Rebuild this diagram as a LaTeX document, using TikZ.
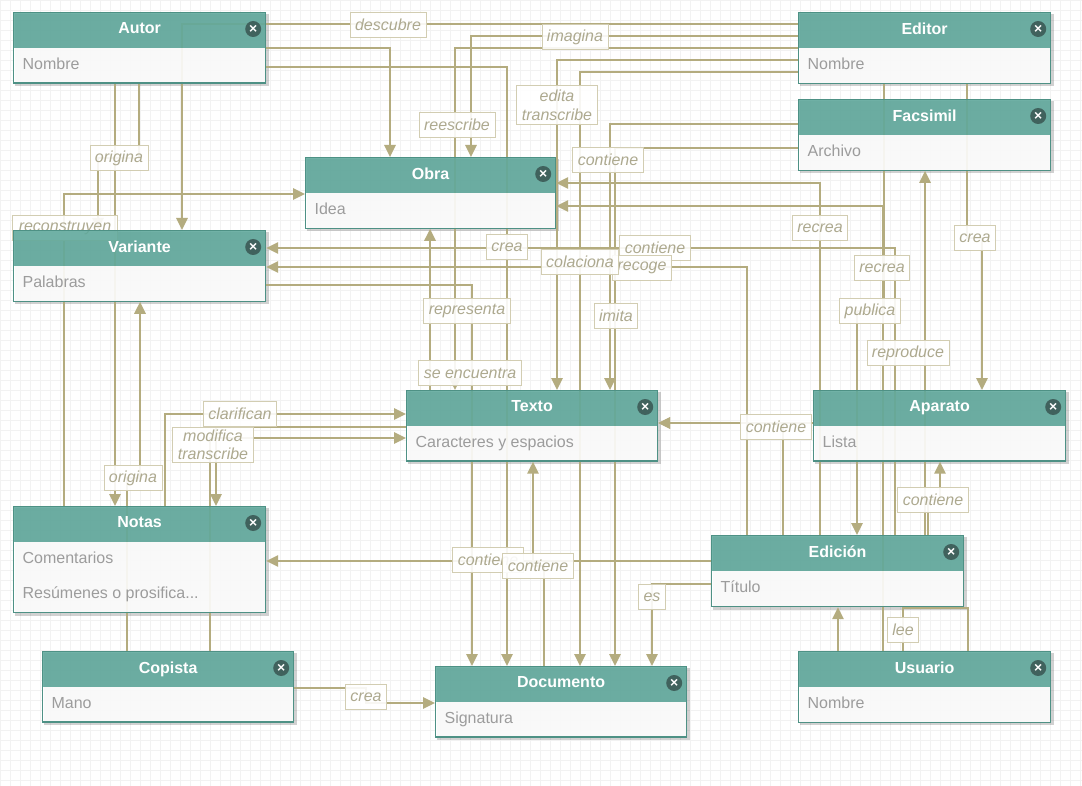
\documentclass[tikz,border=0pt]{standalone}
\usepackage{fontspec}
\setmainfont{Liberation Sans}
\usetikzlibrary{arrows.meta,shapes.multipart,calc}
\definecolor{cabecera}{HTML}{5EA89B}
\definecolor{borde}{HTML}{4E9185}
\definecolor{linea}{HTML}{B4AC7F}
\definecolor{etiq}{HTML}{ADA98F}
\definecolor{cuerpo}{HTML}{9C9C9C}
\definecolor{cerrar}{HTML}{40625D}
\newcommand{\fila}{\rule[-4pt]{0pt}{15.5pt}}
\pgfdeclarelayer{fondo}
\pgfsetlayers{fondo,main}
\tikzset{
  entidad/.style={rectangle split, rectangle split parts=2, rectangle split draw splits=false,
    rectangle split part fill={cabecera,white}, rectangle split part align={center,left},
    draw=borde, line width=1.2pt, minimum width=252pt, inner ysep=9.25pt, inner xsep=9pt,
    anchor=north west, font=\fontsize{16}{18}\selectfont, text=cuerpo,
    fill opacity=0.88, text opacity=1},
  sombra/.style={fill=black, opacity=0.18},
  boton/.style={circle, fill=cerrar, text=white, inner sep=0pt, minimum size=16pt,
    font=\fontsize{14}{14}\selectfont\bfseries},
  rel/.style={draw=linea, line width=2.6pt},
  flecha/.style={rel, -{Triangle[length=12pt,width=11pt]}},
  etiqueta/.style={draw=linea!60, line width=0.8pt, fill=white, fill opacity=0.9, text opacity=1,
    text=etiq, font=\fontsize{16}{18}\selectfont\itshape, inner xsep=5pt, inner ysep=3pt,
    minimum height=25pt}
}
\begin{document}
\begin{tikzpicture}[x=1pt,y=-1pt]
\useasboundingbox (0,0) rectangle (1082,786);

\node[entidad] (autor) at (13,12) {\color{white}\bfseries\fila Autor\nodepart{two}\fila Nombre};
\node[entidad] (editor) at (798,12) {\color{white}\bfseries\fila Editor\nodepart{two}\fila Nombre};
\node[entidad] (facsimil) at (798,99) {\color{white}\bfseries\fila Facsimil\nodepart{two}\fila Archivo};
\node[entidad, minimum width=250pt] (obra) at (305,157) {\color{white}\bfseries\fila Obra\nodepart{two}\fila Idea};
\node[entidad] (variante) at (13,230) {\color{white}\bfseries\fila Variante\nodepart{two}\fila Palabras};
\node[entidad, minimum width=251pt] (texto) at (406,390) {\color{white}\bfseries\fila Texto\nodepart{two}\fila Caracteres y espacios};
\node[entidad] (aparato) at (813,390) {\color{white}\bfseries\fila Aparato\nodepart{two}\fila Lista};
\node[entidad, rectangle split parts=3, rectangle split part fill={cabecera,white,white},
  rectangle split part align={center,left,left}] (notas) at (13,506)
  {\color{white}\bfseries\fila Notas\nodepart{two}\fila Comentarios\nodepart{three}\fila Resúmenes o prosifica...};
\node[entidad] (edicion) at (711,535) {\color{white}\bfseries\fila Edición\nodepart{two}\fila Título};
\node[entidad, minimum width=251pt] (copista) at (42,651) {\color{white}\bfseries\fila Copista\nodepart{two}\fila Mano};
\node[entidad, minimum width=251pt] (documento) at (435,666) {\color{white}\bfseries\fila Documento\nodepart{two}\fila Signatura};
\node[entidad] (usuario) at (798,651) {\color{white}\bfseries\fila Usuario\nodepart{two}\fila Nombre};

\foreach \e in {autor,editor,facsimil,obra,variante,texto,aparato,notas,edicion,copista,documento,usuario}
  \node[boton] (x-\e) at ($(\e.north east)+(-13,17)$) {×};

\begin{pgfonlayer}{fondo}
\fill[white] (0,0) rectangle (1082,786);
\draw[gray!10, line width=0.5pt, step=10pt] (0,0) grid (1082,786);
\foreach \e in {autor,editor,facsimil,obra,variante,texto,aparato,notas,edicion,copista,documento,usuario}
  \fill[sombra] ($(\e.south west)+(2,2.5)$) rectangle ($(\e.north east)+(2.5,2)$);

\draw[flecha] (editor.west |- 0,24) -| (variante.north -| 182,0);
\draw[flecha] (editor.west |- 0,36) -| (obra.north -| 471,0);
\draw[flecha] (autor.east |- 0,48) -| (obra.north -| 390,0);
\draw[flecha] (editor.west |- 0,48) -| (texto.north -| 455,0);
\draw[flecha] (autor.east |- 0,67) -| (documento.north -| 507,0);
\draw[flecha] (editor.west |- 0,60) -| (texto.north -| 557,0);
\draw[flecha] (editor.west |- 0,72) -| (documento.north -| 580,0);
\draw[flecha] (facsimil.west |- 0,124) -| (texto.north -| 610,0);
\draw[flecha] (facsimil.west |- 0,148) -| (documento.north -| 615,0);

\draw[flecha] (edicion.north -| 820,0) |- (obra.east |- 0,183);
\draw[flecha] (usuario.north -| 883,0) |- (obra.east |- 0,206);
\draw[flecha] (editor.south -| 884,0) |- (857,311) -- (edicion.north -| 857,0);
\draw[flecha] (editor.south -| 967,0) |- (982,238) -- (aparato.north -| 982,0);
\draw[flecha] (edicion.north -| 925,0) -- (facsimil.south -| 925,0);
\draw[flecha] (edicion.north -| 928,0) |- (940,500) -- (aparato.south -| 940,0);
\draw[flecha] (edicion.north -| 895,0) |- (variante.east |- 0,248);
\draw[flecha] (edicion.north -| 747,0) |- (variante.east |- 0,267);
\draw[flecha] (aparato.west |- 0,423) -- (texto.east |- 0,423);
\draw[flecha] (edicion.north -| 783,0) |- (texto.east |- 0,423);
\draw[flecha] (edicion.west |- 0,561) -- (notas.east |- 0,561);
\draw[flecha] (edicion.west |- 0,584) -| (documento.north -| 652,0);
\draw[flecha] (documento.north -| 544,0) |- (533,566) -- (texto.south -| 533,0);
\draw[flecha] (usuario.north -| 838,0) -- (edicion.south -| 838,0);
\draw[rel] (usuario.north -| 968,0) |- (903,608) -- (usuario.north -| 903,0);

\draw[flecha] (texto.north -| 430,0) -- (obra.south -| 430,0);
\draw[flecha] (variante.east |- 0,285) -| (documento.north -| 472,0);
\draw[flecha] (autor.south -| 115,0) -- (notas.north -| 115,0);
\draw[flecha] (autor.south -| 139,0) |- (98,158) -- (variante.north -| 98,0);
\draw[flecha] (notas.north -| 64,0) |- (obra.west |- 0,194);
\draw[flecha] (copista.north -| 127,0) |- (140,478) -- (variante.south -| 140,0);
\draw[flecha] (notas.north -| 165,0) |- (texto.west |- 0,414);
\draw[flecha] (texto.west |- 0,427) -| (notas.north -| 216,0);
\draw[flecha] (copista.north -| 210,0) |- (texto.west |- 0,438);
\draw[flecha] (copista.east |- 0,688) -- (366,688) |- (documento.west |- 0,703);

\node[etiqueta] (l-descubre) at (388,25) {descubre};
\node[etiqueta] (l-imagina) at (575,37) {imagina};
\node[etiqueta] (l-reescribe) at (457,125) {reescribe};
\node[etiqueta, align=center, inner ysep=4pt] (l-edita) at (557,105) {edita\\[1pt]transcribe};
\node[etiqueta] (l-contiene1) at (608,160) {contiene};
\node[etiqueta] (l-origina1) at (119,158) {origina};
\node[etiqueta, minimum width=105pt] (l-reconstruyen) at (65,228) {reconstruyen};
\node[etiqueta] (l-recrea1) at (820,228) {recrea};
\node[etiqueta] (l-crea1) at (975,238) {crea};
\node[etiqueta] (l-crea2) at (507,247) {crea};
\node[etiqueta] (l-contiene2) at (655,248) {contiene};
\node[etiqueta] (l-recoge) at (642,268) {recoge};
\node[etiqueta] (l-colaciona) at (580,262) {colaciona};
\node[etiqueta] (l-recrea2) at (882,268) {recrea};
\node[etiqueta] (l-publica) at (870,311) {publica};
\node[etiqueta] (l-representa) at (467,311) {representa};
\node[etiqueta] (l-imita) at (616,316) {imita};
\node[etiqueta] (l-reproduce) at (908,353) {reproduce};
\node[etiqueta] (l-encuentra) at (470,373) {se encuentra};
\node[etiqueta] (l-clarifican) at (240,414) {clarifican};
\node[etiqueta] (l-contiene3) at (776,427) {contiene};
\node[etiqueta, align=center, inner ysep=3pt] (l-modifica) at (213,445) {modifica\\[0pt]transcribe};
\node[etiqueta] (l-origina2) at (133,478) {origina};
\node[etiqueta] (l-contiene4) at (933,500) {contiene};
\node[etiqueta] (l-contiene5) at (488,560) {contiene};
\node[etiqueta] (l-contiene6) at (538,566) {contiene};
\node[etiqueta] (l-es) at (652,597) {es};
\node[etiqueta] (l-lee) at (903,630) {lee};
\node[etiqueta] (l-crea3) at (366,697) {crea};
\end{pgfonlayer}
\end{tikzpicture}
\end{document}
